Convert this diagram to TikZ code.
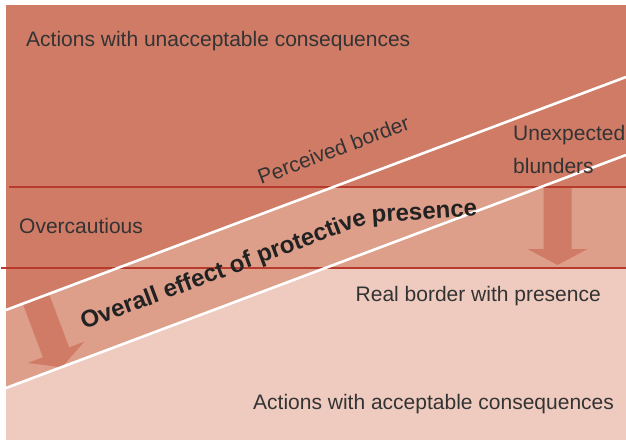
\documentclass[tikz,border=0pt]{standalone}
\usepackage{fontspec}
\setmainfont{Liberation Sans}
\definecolor{darkc}{HTML}{CF7B66}
\definecolor{medc}{HTML}{DD9E8A}
\definecolor{lightc}{HTML}{EFCBBF}
\definecolor{redl}{HTML}{B73A2D}
\definecolor{txtgray}{HTML}{333333}
\definecolor{txtdark}{HTML}{222222}
\begin{document}
\begin{tikzpicture}[x=1pt,y=-1pt,
  lbl/.style={inner sep=0pt, anchor=base west, text=txtgray, font=\fontsize{21}{25}\selectfont},
  boldlbl/.style={inner sep=0pt, anchor=base west, text=txtdark, font=\fontsize{24}{28}\selectfont\bfseries},
  redline/.style={draw=redl, line width=2.4pt},
  whiteline/.style={draw=white, line width=2.6pt},
  arrowfill/.style={fill=darkc}]
\useasboundingbox (0,0) rectangle (626,440);
% key coordinates
\coordinate (L1a) at (6,310);  \coordinate (L1b) at (626,77);
\coordinate (L2a) at (6,388);  \coordinate (L2b) at (626,155);
\coordinate (R1a) at (9,187);  \coordinate (R1b) at (626,187);
\coordinate (R2a) at (1,268);  \coordinate (R2b) at (626,268);
\coordinate (X1) at (intersection of L1a--L1b and R1a--R1b);
\coordinate (X2) at (intersection of L2a--L2b and R2a--R2b);
% regions
\fill[lightc] (6,5) rectangle (626,440);
\fill[medc] (6,5) -- (626,5) -- (R2b) -- (X2) -- (L2a) -- cycle;
\fill[darkc] (6,5) -- (626,5) -- (R1b) -- (X1) -- (L1a) -- cycle;
% right arrow
\fill[arrowfill] (543.5,187) -- (571.5,187) -- (571.5,249) -- (587.5,249)
  -- (557.5,265) -- (527.5,249) -- (543.5,249) -- cycle;
% left arrow (perpendicular to the borders)
\begin{scope}[shift={(36,299)}, rotate=20.6]
\fill[arrowfill] (-14,0) -- (14,0) -- (14,57) -- (30,57) -- (0,73)
  -- (-30,57) -- (-14,57) -- cycle;
\end{scope}
% borders
\draw[redline] (R1a) -- (R1b);
\draw[redline] (R2a) -- (R2b);
\draw[whiteline] (L1a) -- (L1b);
\draw[whiteline] (L2a) -- (L2b);
% labels
\node[lbl] (unacc) at (26,46) {Actions with unacceptable consequences};
\node[lbl, rotate=20.6] (perc) at (261,185) {Perceived border};
\node[lbl] (unexp) at (513,140) {Unexpected};
\node[lbl] (blund) at (513,173) {blunders};
\node[lbl] (overc) at (19,233) {Overcautious};
\node[lbl] (realb) at (355.5,301) {Real border with presence};
\node[lbl] (accep) at (253,409) {Actions with acceptable consequences};
% bold label, bent at the last word
\node[boldlbl, rotate=20.6] (effect) at (84,330) {Overall effect of protective};
\node[boldlbl, rotate=3.5] (presence) at (372,222.5) {presence};
\end{tikzpicture}
\end{document}
